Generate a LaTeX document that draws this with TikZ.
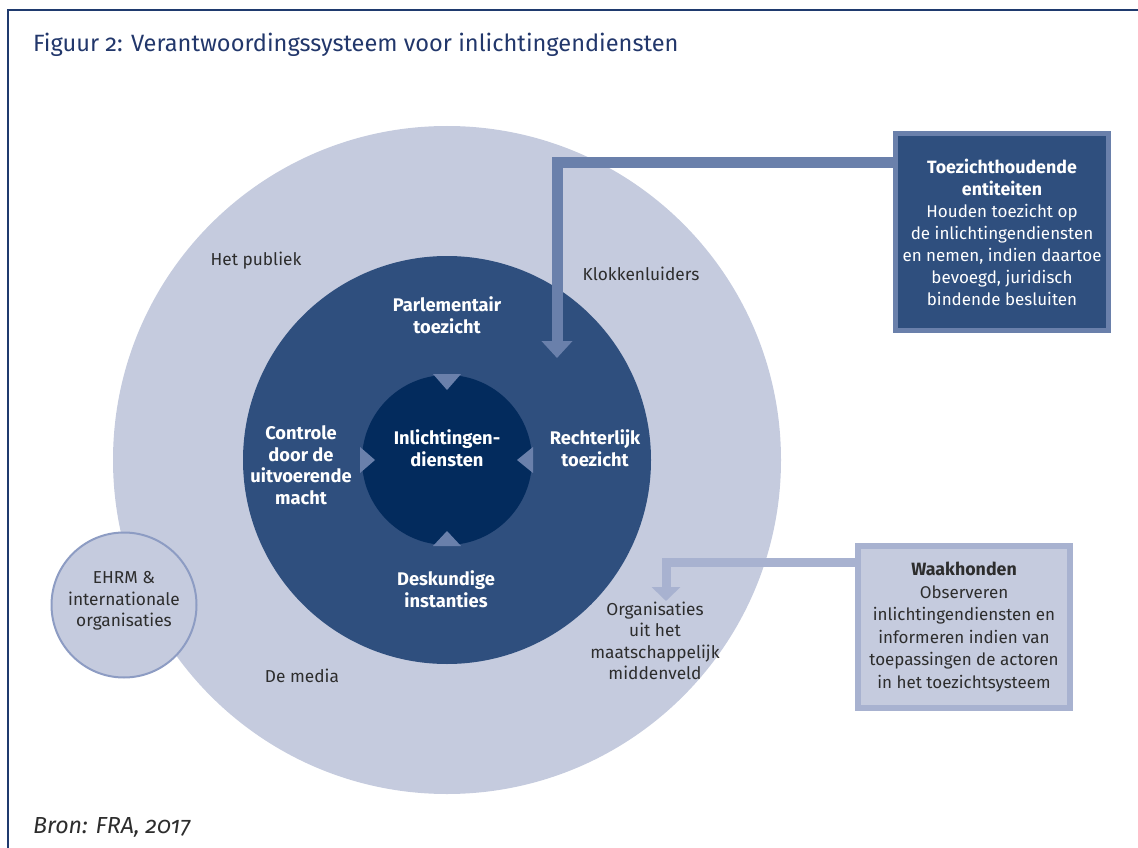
\documentclass[tikz,border=0pt]{standalone}
\usepackage{fontspec}
\setmainfont{Fira Sans}[Numbers=OldStyle]
\usetikzlibrary{arrows.meta}

\definecolor{frameblue}{HTML}{1F3A6E}
\definecolor{titleblue}{HTML}{22376B}
\definecolor{outerfill}{HTML}{C5CBDE}
\definecolor{ringfill}{HTML}{2F4F7E}
\definecolor{corefill}{HTML}{032B5D}
\definecolor{pointer}{HTML}{6A80AB}
\definecolor{paleline}{HTML}{A8B2D0}
\definecolor{ehrmline}{HTML}{8D9CC3}
\definecolor{labelgray}{HTML}{2D2D2D}

\def\bodyfont{\fontsize{17.3}{21.5}\selectfont}
\def\boldfont{\fontsize{18.3}{21.5}\selectfont\bfseries}
\def\boxhead#1{{\fontsize{17.8}{22}\selectfont\bfseries #1}}
\def\centre{(447,460)}

\tikzset{
  ringlabel/.style={text=white, align=center, inner sep=0, font=\boldfont},
  outerlabel/.style={text=labelgray, align=center, inner sep=0, font=\bodyfont},
  topbox/.style={draw=pointer, line width=5pt, fill=ringfill, text=white,
    minimum width=213pt, minimum height=197pt, align=center, inner sep=0,
    font=\fontsize{17}{22}\selectfont},
  watchbox/.style={draw=paleline, line width=6pt, fill=outerfill, text=labelgray,
    minimum width=212pt, minimum height=162pt, align=center, inner sep=0,
    font=\fontsize{17}{22.5}\selectfont}
}

\begin{document}
\begin{tikzpicture}[x=1pt,y=-1pt]
  \useasboundingbox (0,0) rectangle (1138,848);
  \draw[frameblue, line width=2pt] (8,848) -- (8,10) -- (1138,10);
  \node[anchor=base west, text=titleblue, inner sep=0, font=\fontsize{23.6}{28}\selectfont] (titel) at (33,52)
    {Figuur 2: Verantwoordingssysteem voor inlichtingendiensten};

  % rings
  \fill[outerfill] \centre circle[radius=334pt];
  \fill[ringfill] \centre circle[radius=204pt];
  \fill[corefill] \centre circle[radius=85pt];
  \fill[pointer] (433,374) -- (461,374) -- (447,390) -- cycle;
  \fill[pointer] (433,546) -- (461,546) -- (447,531) -- cycle;
  \fill[pointer] (360,447) -- (360,473) -- (375,460) -- cycle;
  \fill[pointer] (533,447) -- (533,473) -- (517,460) -- cycle;

  \node[ringlabel] (kern) at (447,448) {Inlichtingen-\\diensten};
  \node[ringlabel] (parlement) at (447,315) {Parlementair\\toezicht};
  \node[ringlabel] (rechter) at (595,448) {Rechterlijk\\toezicht};
  \node[ringlabel] (deskundig) at (446,589) {Deskundige\\instanties};
  \node[ringlabel] (uitvoerend) at (301,465) {Controle\\door de\\uitvoerende\\macht};

  \node[outerlabel] (publiek) at (256,261) {Het publiek};
  \node[outerlabel] (klokken) at (641,274) {Klokkenluiders};
  \node[outerlabel] (media) at (302,676) {De media};
  \node[outerlabel] (middenveld) at (655,641) {Organisaties\\uit het\\maatschappelijk\\middenveld};

  \node[circle, draw=ehrmline, line width=2pt, fill=outerfill, minimum size=145pt,
    outerlabel] (ehrm) at (124,605) {};
  \node[outerlabel] (ehrmtekst) at (124,601) {EHRM \&\\internationale\\organisaties};

  % boxes and arrows
  \node[topbox] (toezicht) at (1002,232) {\boxhead{Toezichthoudende}\\\boxhead{entiteiten}\\Houden toezicht op\\de inlichtingendiensten\\en nemen, indien daartoe\\bevoegd, juridisch\\bindende besluiten};
  \node[watchbox] (waak) at (964,627) {\boxhead{Waakhonden}\\Observeren\\inlichtingendiensten en\\informeren indien van\\toepassingen de actoren\\in het toezichtsysteem};

  \coordinate (tipA) at (557,358);
  \coordinate (tipB) at (666,601);
  \draw[pointer, line width=11pt, -{Triangle[width=30pt,length=17pt]}]
    ([yshift=-32pt]toezicht.north west) -| (tipA);
  \draw[paleline, line width=9pt, -{Triangle[width=28pt,length=14pt]}]
    ([yshift=-19pt]waak.north west) -| (tipB);

  \node[anchor=base west, text=labelgray, inner sep=0, font=\fontsize{23.2}{26}\selectfont\itshape] (bron) at (33,833)
    {Bron: FRA, 2017};
\end{tikzpicture}
\end{document}
